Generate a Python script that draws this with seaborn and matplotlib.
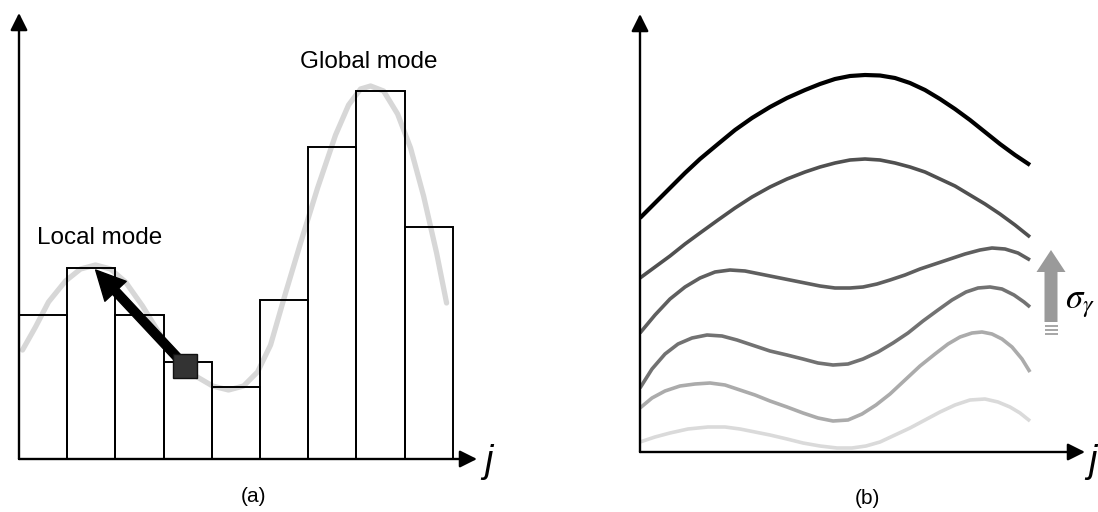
import matplotlib
matplotlib.use("Agg")
import matplotlib.pyplot as plt
from matplotlib.patches import FancyArrow
import pandas as pd
import seaborn as sns

# ---------------- data ----------------
# (a) histogram of j and the underlying smooth density
bins = ["1", "2", "3", "4", "5", "6", "7", "8", "9"]
counts = [144, 191, 144, 97, 72, 159, 312, 368, 232]

density_x = [-0.427, -0.158, 0.112, 0.465, 0.776, 1.087, 1.398, 1.710, 2.062,
             2.394, 2.747, 3.162, 3.515, 3.846, 4.158, 4.448, 4.718, 5.029,
             5.340, 5.693, 6.066, 6.336, 6.585, 6.793, 7.062, 7.353, 7.622,
             7.892, 8.162, 8.369]
density_y = [109, 132, 157, 178, 190, 194, 190, 177, 153,
             127, 103, 83, 73, 69, 73, 87, 114, 166,
             216, 271, 324, 354, 370, 373, 368, 345, 311,
             263, 206, 156]

# mode-seeking step: start point and the local mode it climbs to
start_x, start_y = 2.95, 93
local_mode_x, local_mode_y = 1.09, 189

# (b) density estimates, from the largest sigma_r (top) to the smallest
curve1_x = [0, 15, 30, 45, 60, 78, 95, 112, 130, 147, 165, 180, 195, 210, 225,
            240, 255, 270, 285, 300, 315, 330, 345, 360, 375, 390]
curve1_y = [234, 249, 264, 279, 293, 308, 322, 334, 345, 354, 362, 368, 373, 376,
            377, 376.5, 374, 369, 362, 353, 343, 332, 320, 308, 297, 287]

curve2_x = [0, 15, 30, 45, 60, 78, 95, 112, 130, 147, 165, 180, 195, 210, 225,
            240, 255, 270, 285, 300, 315, 330, 345, 360, 375, 390]
curve2_y = [174, 185, 196, 208, 219, 232, 244, 255, 265, 273, 280, 285, 289, 292,
            293, 292, 289, 285, 280, 273, 266, 257, 248, 238, 227, 215]

curve3_x = [0, 15, 30, 45, 60, 75, 90, 105, 120, 135, 150, 165, 180, 195, 210,
            223, 237, 250, 265, 280, 295, 310, 325, 340, 352, 365, 378, 390]
curve3_y = [119, 137, 153, 165, 174, 180, 182, 181, 178, 175, 172, 169, 166, 164,
            164, 165, 168, 172, 177, 183, 188, 193, 198, 202, 204, 203, 199, 192]

curve4_x = [0, 12, 25, 38, 52, 67, 82, 97, 112, 130, 147, 163, 178, 193, 208,
            223, 238, 253, 268, 283, 298, 312, 326, 338, 350, 362, 374, 384, 390]
curve4_y = [64, 83, 98, 108, 114, 117, 116, 112, 107, 101, 97, 93, 89, 87, 88,
            93, 100, 109, 119, 131, 142, 152, 160, 164, 165, 163, 157, 150, 145]

curve5_x = [0, 12, 25, 40, 55, 70, 85, 100, 115, 130, 147, 163, 178, 193, 208,
            222, 236, 250, 265, 280, 295, 308, 320, 332, 342, 352, 362, 372, 382, 390]
curve5_y = [44, 54, 61, 66, 68, 69, 67, 62, 57, 51, 45, 39, 34, 31, 32,
            38, 47, 58, 72, 86, 98, 108, 115, 119, 120, 118, 113, 105, 93, 80]

curve6_x = [0, 15, 30, 48, 68, 85, 100, 115, 130, 147, 163, 180, 197, 212, 226,
            240, 255, 270, 285, 300, 315, 330, 345, 358, 370, 380, 390]
curve6_y = [10, 15, 19, 23, 25, 25, 23, 20, 17, 13, 9, 6, 4, 4, 6,
            10, 17, 24, 32, 40, 47, 52, 53, 50, 45, 39, 31]

curves = [(curve1_x, curve1_y), (curve2_x, curve2_y), (curve3_x, curve3_y),
          (curve4_x, curve4_y), (curve5_x, curve5_y), (curve6_x, curve6_y)]
curve_colors = ["#000000", "#505050", "#5f5f5f", "#727272", "#ababab", "#dadada"]
curve_widths = [3.0, 2.6, 2.6, 2.6, 2.6, 2.6]

# ---------------- style ----------------
sns.set_theme(style="white")
plt.rcParams["font.family"] = ["Liberation Sans", "DejaVu Sans"]
plt.rcParams["mathtext.fontset"] = "stix"
plt.rcParams["text.color"] = "black"

W, H = 1098, 512
fig = plt.figure(figsize=(W / 100, H / 100), dpi=100)


def px_box(x0, y0, x1, y1):
    """Pixel box (top-left origin) -> figure-fraction rect."""
    return [x0 / W, 1 - y1 / H, (x1 - x0) / W, (y1 - y0) / H]


def fig_txt(px, py, s, **kw):
    fig.text(px / W, 1 - py / H, s, color="black", **kw)


ax_a = fig.add_axes(px_box(19, 13, 477, 459))
ax_b = fig.add_axes(px_box(640, 14, 1085, 452))

# ---------------- panel (a) ----------------
hist_df = pd.DataFrame({"bin": bins, "count": counts})
sns.lineplot(x=density_x, y=density_y, color="#d7d7d7", linewidth=3.8,
             estimator=None, sort=False, ax=ax_a, zorder=1,
             solid_joinstyle="round")
sns.barplot(data=hist_df, x="bin", y="count", order=bins, color="black",
            fill=False, width=1.0, linewidth=1.4, errorbar=None, ax=ax_a)
for p in ax_a.patches:
    p.set_zorder(2)

ax_a.annotate("", xy=(local_mode_x, local_mode_y), xytext=(start_x, start_y),
              arrowprops=dict(arrowstyle="simple,head_width=0.75,head_length=0.75,tail_width=0.22",
                              mutation_scale=28, color="black",
                              shrinkA=0, shrinkB=0), zorder=4)
ax_a.plot([start_x], [start_y], marker="s", markersize=17,
          markerfacecolor="#333333", markeredgecolor="#111111",
          markeredgewidth=1.0, zorder=5)

ax_a.set_xlim(-0.5, 9.0)
ax_a.set_ylim(0, 446)

# ---------------- panel (b) ----------------
for (cx, cy), col, lw in zip(curves, curve_colors, curve_widths):
    sns.lineplot(x=cx, y=cy, color=col, linewidth=lw, estimator=None,
                 sort=False, ax=ax_b, solid_capstyle="butt",
                 solid_joinstyle="round")

ax_b.set_xlim(0, 445)
ax_b.set_ylim(0, 438)

# sigma_r direction arrow
ax_b.add_patch(FancyArrow(411, 130, 0, 72, width=13, head_width=29,
                          head_length=22, length_includes_head=True,
                          color="#9a9a9a", lw=0, clip_on=False))
for yy in (126.5, 122, 118):
    ax_b.plot([404.5, 417.5], [yy, yy], color="#a6a6a6", lw=1.4,
              solid_capstyle="butt", clip_on=False)

# ---------------- axes as arrows ----------------
for ax in (ax_a, ax_b):
    ax.set_xticks([])
    ax.set_yticks([])
    ax.set_xlabel("")
    ax.set_ylabel("")
    for s in ax.spines.values():
        s.set_visible(False)
    ax.patch.set_alpha(0)
    for tip in ((0, 1), (1, 0)):
        ax.annotate("", xy=tip, xycoords="axes fraction", xytext=(0, 0),
                    textcoords="axes fraction",
                    arrowprops=dict(arrowstyle="-|>", mutation_scale=26,
                                    lw=1.7, color="black",
                                    shrinkA=0, shrinkB=0),
                    annotation_clip=False)

# ---------------- text ----------------
fig_txt(100, 238, "Local mode", fontsize=17.5, ha="center", va="center")
fig_txt(369, 62, "Global mode", fontsize=17.5, ha="center", va="center")
fig_txt(484, 462, "j", fontsize=27, style="italic", ha="left", va="center")
fig_txt(1088, 462, "j", fontsize=27, style="italic", ha="left", va="center")
fig_txt(1065, 303, r"$\sigma_\gamma$", fontsize=25, ha="left", va="center")
fig_txt(253, 497, "(a)", fontsize=15, ha="center", va="center")
fig_txt(867, 498, "(b)", fontsize=15, ha="center", va="center")

fig.savefig("out.png", dpi=100)
